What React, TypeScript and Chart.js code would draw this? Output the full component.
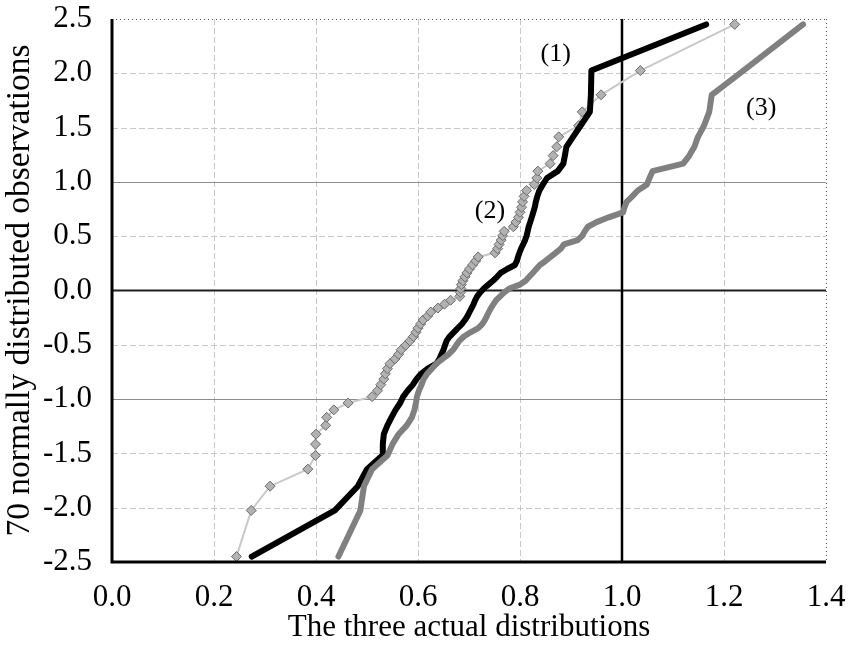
import React, { useEffect, useRef } from "react";
import { Chart, registerables } from "chart.js";

Chart.register(...registerables);

// Normal scores of the 70 observations (y values)
const normalScores = [
  -2.45, -2.025, -1.802, -1.645, -1.519, -1.415, -1.323, -1.242, -1.168, -1.099,
  -1.036, -0.977, -0.921, -0.867, -0.816, -0.767, -0.72, -0.674, -0.63, -0.587,
  -0.545, -0.504, -0.464, -0.424, -0.385, -0.347, -0.309, -0.272, -0.235, -0.198,
  -0.162, -0.126, -0.09, -0.054, -0.018, 0.018, 0.054, 0.09, 0.126, 0.162,
  0.198, 0.235, 0.272, 0.309, 0.347, 0.385, 0.424, 0.464, 0.504, 0.545,
  0.587, 0.63, 0.674, 0.72, 0.767, 0.816, 0.867, 0.921, 0.977, 1.036,
  1.099, 1.168, 1.242, 1.323, 1.415, 1.519, 1.645, 1.802, 2.025, 2.45,
];

// Distribution (1) - black thick line
const series1X = [
  0.274, 0.437, 0.482, 0.5, 0.53, 0.531, 0.533, 0.54, 0.548, 0.556,
  0.565, 0.571, 0.58, 0.59, 0.597, 0.606, 0.619, 0.636, 0.642, 0.646,
  0.65, 0.653, 0.656, 0.662, 0.67, 0.678, 0.686, 0.692, 0.697, 0.701,
  0.705, 0.709, 0.712, 0.716, 0.722, 0.729, 0.738, 0.747, 0.755, 0.762,
  0.775, 0.79, 0.794, 0.796, 0.799, 0.802, 0.806, 0.81, 0.813, 0.815,
  0.817, 0.82, 0.823, 0.826, 0.829, 0.831, 0.834, 0.838, 0.845, 0.853,
  0.874, 0.885, 0.888, 0.891, 0.904, 0.919, 0.937, 0.939, 0.94, 1.165,
];

// Distribution (2) - thin light line with diamonds
const series2X = [
  0.244, 0.273, 0.31, 0.384, 0.399, 0.399, 0.4, 0.419, 0.421, 0.435,
  0.463, 0.51, 0.521, 0.527, 0.533, 0.536, 0.54, 0.545, 0.555, 0.562,
  0.567, 0.576, 0.584, 0.591, 0.596, 0.6, 0.605, 0.61, 0.619, 0.625,
  0.639, 0.652, 0.664, 0.682, 0.683, 0.684, 0.685, 0.688, 0.692, 0.696,
  0.701, 0.707, 0.713, 0.718, 0.751, 0.756, 0.759, 0.763, 0.766, 0.769,
  0.787, 0.792, 0.797, 0.8, 0.803, 0.805, 0.808, 0.813, 0.828, 0.833,
  0.835, 0.859, 0.865, 0.872, 0.876, 0.915, 0.922, 0.959, 1.036, 1.221,
];

// Distribution (3) - gray thick line
const series3X = [
  0.444, 0.487, 0.494, 0.51, 0.54, 0.55, 0.562, 0.578, 0.588, 0.593,
  0.596, 0.598, 0.602, 0.607, 0.611, 0.618, 0.627, 0.636, 0.648, 0.66,
  0.669, 0.675, 0.681, 0.69, 0.703, 0.718, 0.726, 0.731, 0.735, 0.739,
  0.743, 0.748, 0.753, 0.761, 0.769, 0.779, 0.8, 0.811, 0.818, 0.825,
  0.832, 0.839, 0.85, 0.86, 0.87, 0.88, 0.886, 0.913, 0.922, 0.927,
  0.933, 0.95, 0.974, 1.002, 1.005, 1.009, 1.02, 1.031, 1.049, 1.054,
  1.06, 1.12, 1.132, 1.142, 1.149, 1.161, 1.171, 1.176, 1.238, 1.355,
];

const xTicks = [0, 0.2, 0.4, 0.6, 0.8, 1.0, 1.2, 1.4];
const yTicks = [-2.5, -2.0, -1.5, -1.0, -0.5, 0, 0.5, 1.0, 1.5, 2.0, 2.5];

const seriesLabels = ["(1)", "(2)", "(3)"];
const labelX = [0.87, 0.741, 1.273];
const labelY = [2.178, 0.732, 1.68];

const xTitle = "The three actual distributions";
const yTitle = "70 normally distributed observations";

const SERIF = "'Liberation Serif', 'Times New Roman', serif";

const toPoints = (xs: number[]) => xs.map((x, i) => ({ x, y: normalScores[i] }));

const gridPlugin = {
  id: "customGrid",
  beforeDatasetsDraw(chart: any) {
    const { ctx, chartArea: a, scales } = chart;
    const xs = scales.x;
    const ys = scales.y;
    ctx.save();
    xTicks.forEach((v) => {
      if (v === 0 || v === 1.0 || v === 1.4) return;
      const px = Math.round(xs.getPixelForValue(v)) + 0.5;
      ctx.beginPath();
      ctx.setLineDash([6, 3]);
      ctx.strokeStyle = "#c8c8c8";
      ctx.lineWidth = 1;
      ctx.moveTo(px, a.top);
      ctx.lineTo(px, a.bottom);
      ctx.stroke();
    });
    yTicks.forEach((v) => {
      if (v === -2.5 || v === 2.5 || v === 0) return;
      const py = Math.round(ys.getPixelForValue(v)) + 0.5;
      ctx.beginPath();
      if (Math.abs(v) === 1) {
        ctx.setLineDash([]);
        ctx.strokeStyle = "#8c8c8c";
      } else {
        ctx.setLineDash([6, 3]);
        ctx.strokeStyle = "#c8c8c8";
      }
      ctx.lineWidth = 1;
      ctx.moveTo(a.left, py);
      ctx.lineTo(a.right, py);
      ctx.stroke();
    });
    ctx.setLineDash([]);
    ctx.strokeStyle = "#1e1e1e";
    ctx.lineWidth = 2;
    const zy = ys.getPixelForValue(0);
    ctx.beginPath();
    ctx.moveTo(a.left, zy);
    ctx.lineTo(a.right, zy);
    ctx.stroke();
    const ox = xs.getPixelForValue(1.0);
    ctx.beginPath();
    ctx.strokeStyle = "#000";
    ctx.lineWidth = 2.5;
    ctx.moveTo(ox, a.top);
    ctx.lineTo(ox, a.bottom);
    ctx.stroke();
    ctx.setLineDash([1, 3]);
    ctx.strokeStyle = "#555";
    ctx.lineWidth = 1;
    ctx.beginPath();
    ctx.moveTo(a.left, Math.round(a.top) + 0.5);
    ctx.lineTo(a.right, Math.round(a.top) + 0.5);
    ctx.stroke();
    ctx.beginPath();
    ctx.moveTo(Math.round(a.right) + 0.5, a.top);
    ctx.lineTo(Math.round(a.right) + 0.5, a.bottom);
    ctx.stroke();
    ctx.restore();
  },
  afterDatasetsDraw(chart: any) {
    const { ctx, chartArea: a, scales } = chart;
    ctx.save();
    ctx.setLineDash([]);
    ctx.strokeStyle = "#000";
    ctx.lineWidth = 3;
    ctx.beginPath();
    ctx.moveTo(a.left, a.top);
    ctx.lineTo(a.left, a.bottom);
    ctx.lineTo(a.right, a.bottom);
    ctx.stroke();
    ctx.fillStyle = "#000";
    ctx.font = `26px ${SERIF}`;
    ctx.textAlign = "center";
    ctx.textBaseline = "middle";
    seriesLabels.forEach((t, i) => {
      ctx.fillText(t, scales.x.getPixelForValue(labelX[i]), scales.y.getPixelForValue(labelY[i]));
    });
    ctx.restore();
  },
};

export default function App() {
  const canvasRef = useRef<HTMLCanvasElement | null>(null);

  useEffect(() => {
    if (!canvasRef.current) return;
    const chart = new Chart(canvasRef.current, {
      type: "scatter",
      data: {
        datasets: [
          {
            label: "(3)",
            data: toPoints(series3X),
            showLine: true,
            borderColor: "#808080",
            borderWidth: 6,
            pointRadius: 0,
            borderJoinStyle: "round",
            borderCapStyle: "round",
          },
          {
            label: "(1)",
            data: toPoints(series1X),
            showLine: true,
            borderColor: "#000000",
            borderWidth: 6,
            pointRadius: 0,
            borderJoinStyle: "round",
            borderCapStyle: "round",
          },
          {
            label: "(2)",
            data: toPoints(series2X),
            showLine: true,
            borderColor: "#c8c8c8",
            borderWidth: 2,
            pointStyle: "rectRot",
            pointRadius: 5,
            pointBackgroundColor: "#b2b2b2",
            pointBorderColor: "#6a6a6a",
            pointBorderWidth: 1,
          },
        ],
      },
      options: {
        animation: false,
        responsive: true,
        maintainAspectRatio: false,
        events: [],
        layout: { padding: { top: 19, right: 23, left: 0, bottom: 0 } },
        plugins: {
          legend: { display: false },
          tooltip: { enabled: false },
        },
        scales: {
          x: {
            type: "linear",
            min: 0,
            max: 1.4,
            afterBuildTicks: (s: any) => {
              s.ticks = xTicks.map((v) => ({ value: v }));
            },
            afterFit: (s: any) => {
              s.height = 84;
              s.paddingLeft = 0;
              s.paddingRight = 0;
            },
            grid: { display: false },
            border: { display: false },
            ticks: {
              color: "#000",
              padding: 9,
              maxRotation: 0,
              font: { family: SERIF, size: 31 },
              callback: (v: any) => Number(v).toFixed(1),
            },
            title: {
              display: true,
              text: xTitle,
              color: "#000",
              font: { family: SERIF, size: 31 },
              padding: { top: 0, bottom: 0 },
            },
          },
          y: {
            type: "linear",
            min: -2.5,
            max: 2.5,
            afterBuildTicks: (s: any) => {
              s.ticks = yTicks.map((v) => ({ value: v }));
            },
            afterFit: (s: any) => {
              s.width = 112;
              s.paddingTop = 0;
              s.paddingBottom = 0;
            },
            grid: { display: false },
            border: { display: false },
            ticks: {
              color: "#000",
              padding: 12,
              font: { family: SERIF, size: 31 },
              callback: (v: any) => Number(v).toFixed(1),
            },
            title: {
              display: true,
              text: yTitle,
              color: "#000",
              font: { family: SERIF, size: 33.5 },
              padding: { top: 0, bottom: 0 },
            },
          },
        },
      },
      plugins: [gridPlugin],
    });
    return () => chart.destroy();
  }, []);

  return (
    <div style={{ position: "absolute", left: 0, top: 0, width: 849, height: 646, background: "#fff" }}>
      <canvas ref={canvasRef} />
    </div>
  );
}
